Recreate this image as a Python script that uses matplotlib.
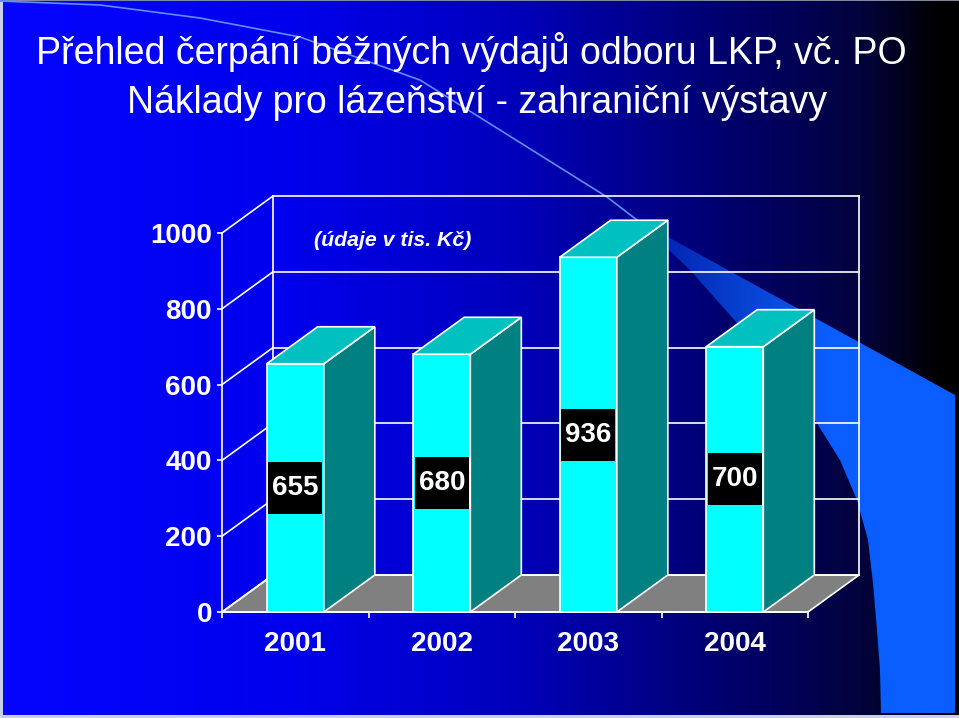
import numpy as np
import matplotlib
matplotlib.use('Agg')
import matplotlib.pyplot as plt
from matplotlib.patches import Polygon, Rectangle
from matplotlib.lines import Line2D
from matplotlib.colors import LinearSegmentedColormap
import matplotlib.transforms as mtransforms

# ---------------- data ----------------
years = ['2001', '2002', '2003', '2004']
values = [655, 680, 936, 700]
yticks = [0, 200, 400, 600, 800, 1000]
title_line1 = 'Přehled čerpání běžných výdajů odboru LKP, vč. PO'
title_line2 = 'Náklady pro lázeňství - zahraniční výstavy'
note = '(údaje v tis. Kč)'

# ---------------- figure ----------------
W, H = 959, 718
DPI = 100
plt.rcParams['font.family'] = ['Liberation Sans', 'DejaVu Sans']
fig = plt.figure(figsize=(W / DPI, H / DPI), dpi=DPI)

# background (slide)
bg = fig.add_axes([0, 0, 1, 1], zorder=0)
bg.set_xlim(0, W)
bg.set_ylim(H, 0)
bg.axis('off')
stops = [(0.0, (0.02, 0.02, 1.0)), (0.3, (0.0, 0.0, 0.93)), (0.55, (0.0, 0.0, 0.72)),
         (0.75, (0.0, 0.0, 0.44)), (0.9, (0.01, 0.01, 0.24)), (0.985, (0.0, 0.0, 0.0)),
         (1.0, (0.0, 0.0, 0.0))]
cmap = LinearSegmentedColormap.from_list('bgc', stops)
bg.imshow(np.linspace(0, 1, 600)[None, :], cmap=cmap, extent=[0, W, H, 0],
          aspect='auto', interpolation='bilinear')

# decorative bright shape
shape_pts = [(637, 220), (955, 395), (955, 713), (881, 713), (880, 670), (877, 630),
             (873, 583), (868, 540), (857, 500), (840, 460), (813, 417), (780, 370),
             (737, 323), (690, 270)]
poly = Polygon(shape_pts, closed=True, fc='none', ec='none')
bg.add_patch(poly)
xx = np.linspace(0, W, 400)
alpha_row = 0.3 + 0.7 * np.clip((xx - 637) / 190, 0, 1)
rgba = np.zeros((1, 400, 4))
rgba[..., 0] = 0.04
rgba[..., 1] = 0.37
rgba[..., 2] = 1.0
rgba[..., 3] = alpha_row
im = bg.imshow(rgba, extent=[0, W, H, 0], aspect='auto', interpolation='bilinear')
im.set_clip_path(poly)
arc = [(0, 1), (100, 5), (200, 18), (300, 37), (420, 80), (500, 130), (607, 197), (637, 220)]
bg.plot([p[0] for p in arc], [p[1] for p in arc], color='#5f8dff', lw=1.2)
# slide frame
bg.add_patch(Rectangle((0, 0), 2.5, H, fc='#c8d0e8', ec='none'))
bg.add_patch(Rectangle((0, H - 3), W, 3, fc='#c8d0e8', ec='none'))
bg.add_patch(Rectangle((0, 0), W, 1.2, fc='#8088a0', ec='none'))

# ---------------- chart ----------------
ax = fig.add_axes([222 / W, (H - 612) / H, 586 / W, 379 / H], zorder=2)
ax.set_xlim(-0.5, len(years) - 0.5)
ax.set_ylim(0, 1000)
ax.set_autoscale_on(False)
ax.patch.set_alpha(0)
for s in ['top', 'right']:
    ax.spines[s].set_visible(False)
for s in ['left', 'bottom']:
    ax.spines[s].set_color('white')
    ax.spines[s].set_linewidth(1.2)
    ax.spines[s].set_zorder(4)

DX, DY = 51, 37  # depth offset in pixels
ident = mtransforms.IdentityTransform()


def proj(x, y, z):
    p = ax.transData.transform((x, y))
    return (p[0] + z * DX, p[1] + z * DY)


def seg(p, q, z=2):
    ax.add_line(Line2D([p[0], q[0]], [p[1], q[1]], color='white', lw=lw,
                       transform=ident, zorder=z, clip_on=False))


def face(pts, color, z):
    ax.add_patch(Polygon(pts, closed=True, fc=color, ec='white', lw=lw,
                         transform=ident, zorder=z, clip_on=False))


x0, x1 = -0.5, len(years) - 0.5
lw = 1.2
# floor
face([proj(x0, 0, 0), proj(x1, 0, 0), proj(x1, 0, 1), proj(x0, 0, 1)], '#808080', 1)
# back wall + gridlines + side wall lines
for v in yticks:
    seg(proj(x0, v, 1), proj(x1, v, 1))
    seg(proj(x0, v, 0), proj(x0, v, 1))
for xe in [x0, x1]:
    seg(proj(xe, 0, 1), proj(xe, 1000, 1))

# bars
w = 0.39
px_per_unit = (ax.transData.transform((0, 1000))[1] - ax.transData.transform((0, 0))[1]) / 1000.0
box_h = 52 / px_per_unit
for i, v in enumerate(values):
    ax.add_patch(Rectangle((i - w / 2, 0), w, v, fc='#00FFFF', ec='white', lw=lw, zorder=5,
                           clip_on=False))
    face([proj(i + w / 2, 0, 0), proj(i + w / 2, v, 0), proj(i + w / 2, v, 1),
          proj(i + w / 2, 0, 1)], '#008080', 5)
    face([proj(i - w / 2, v, 0), proj(i + w / 2, v, 0), proj(i + w / 2, v, 1),
          proj(i - w / 2, v, 1)], '#00C0C0', 5)
    ax.add_patch(Rectangle((i - w / 2 + 0.01, v / 2 - box_h / 2), w - 0.02, box_h,
                           fc='black', ec='none', zorder=6))
    ax.text(i, v / 2, str(v), ha='center', va='center', color='white',
            fontsize=20, fontweight='bold', zorder=7)

# ticks
ax.set_yticks(yticks)
ax.set_yticklabels([str(t) for t in yticks])
ax.tick_params(axis='y', colors='white', length=3.6, width=1.2, pad=3.6, labelsize=20)
for lab in ax.get_yticklabels():
    lab.set_fontweight('bold')
ax.set_xticks(np.arange(len(years) + 1) - 0.5)
ax.set_xticklabels([])
ax.set_xticks(np.arange(len(years)), minor=True)
ax.set_xticklabels(years, minor=True)
ax.tick_params(axis='x', which='major', colors='white', length=4.3, width=1.2)
ax.tick_params(axis='x', which='minor', colors='white', length=0, pad=14, labelsize=20)
for lab in ax.get_xticklabels(minor=True):
    lab.set_fontweight('bold')

# texts
fig.text(393 / W, 1 - 241 / H, note, ha='center', va='center', color='white',
         fontsize=15.3, fontweight='bold', fontstyle='italic', zorder=10)
fig.text(471 / W, 1 - 64 / H, title_line1, ha='center', va='baseline', color='white',
         fontsize=27, zorder=10)
fig.text(477 / W, 1 - 113 / H, title_line2, ha='center', va='baseline', color='white',
         fontsize=27, zorder=10)

fig.savefig('out.png', dpi=DPI)
